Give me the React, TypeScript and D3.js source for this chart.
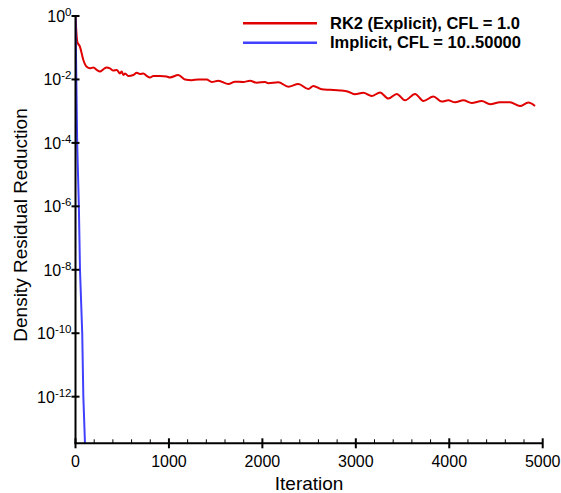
import React from "react";
import * as d3 from "d3";

const rk2Iter = [0, 19, 48, 84, 120, 155, 191, 227, 262, 298, 334, 369, 405, 441, 476, 494, 512, 530, 565, 619, 655, 690, 726, 762, 797, 833, 904, 976, 1011, 1100, 1172, 1244, 1315, 1404, 1458, 1529, 1636, 1707, 1796, 1868, 1939, 2028, 2064, 2171, 2278, 2385, 2492, 2545, 2635, 2724, 2831, 2920, 2991, 3080, 3170, 3259, 3348, 3438, 3527, 3634, 3723, 3830, 3919, 3990, 4062, 4151, 4240, 4348, 4437, 4543, 4650, 4757, 4846, 4918];
const rk2Res = [1, 0.155, 0.107, 0.041, 0.025, 0.0224, 0.024, 0.02, 0.0178, 0.0209, 0.024, 0.0224, 0.019, 0.02, 0.0155, 0.0178, 0.0138, 0.0155, 0.0129, 0.0138, 0.0162, 0.0148, 0.0155, 0.0129, 0.0115, 0.0129, 0.0129, 0.0123, 0.0115, 0.0138, 0.01, 0.0095, 0.01, 0.01, 0.0083, 0.0091, 0.0072, 0.0085, 0.0083, 0.0091, 0.0079, 0.0083, 0.0076, 0.0081, 0.0059, 0.0072, 0.005, 0.0062, 0.0049, 0.0047, 0.0045, 0.0041, 0.0034, 0.0038, 0.003, 0.0039, 0.0025, 0.0035, 0.0022, 0.0035, 0.0021, 0.0029, 0.002, 0.0022, 0.0019, 0.0022, 0.0018, 0.0021, 0.00166, 0.0019, 0.0019, 0.00145, 0.00186, 0.00145];

const implIter = [0, 18, 36, 48, 72, 84, 102];
const implRes = [1, 1e-4, 1e-6, 1e-8, 1e-10, 1e-12, 3e-14];

const xMajorTicks = [0, 1000, 2000, 3000, 4000, 5000];
const yTickExps = [0, -2, -4, -6, -8, -10, -12];

const seriesNames = ["RK2 (Explicit), CFL = 1.0", "Implicit, CFL = 10..50000"];
const seriesColors = ["#e00000", "#4040ff"];

const W = 561, H = 493;
const FONT = "'Liberation Sans', Arial, Helvetica, sans-serif";

export default function App() {
  const x = d3.scaleLinear().domain([0, 5000]).range([75.5, 542.7]);
  const yMin = Math.pow(10, -13.47);
  const y = d3.scaleLog().domain([1, yMin]).range([16, 443.3]);
  const line = d3
    .line<[number, number]>()
    .x((d) => x(d[0]))
    .y((d) => y(d[1]))
    .curve(d3.curveMonotoneX);
  const rk2 = rk2Iter.map((v, i) => [v, rk2Res[i]] as [number, number]);
  const impl = implIter.map((v, i) => [v, implRes[i]] as [number, number]);
  const minorX = d3.range(0, 5001, 200).filter((v) => v % 1000 !== 0);
  const x0 = x(0), yb = y(yMin);

  return (
    <svg width={W} height={H} style={{ position: "absolute", left: 0, top: 0, background: "#fff" }} fontFamily={FONT}>
      <defs>
        <clipPath id="plot">
          <rect x={x0} y={0} width={x(5000) - x0 + 5} height={yb} />
        </clipPath>
      </defs>
      <g clipPath="url(#plot)">
        <path d={line(rk2) || ""} fill="none" stroke={seriesColors[0]} strokeWidth={2} />
        <path d={line.curve(d3.curveLinear)(impl) || ""} fill="none" stroke={seriesColors[1]} strokeWidth={2} />
      </g>
      <line x1={x0} x2={x0} y1={y(1)} y2={yb} stroke="#000" strokeWidth={2} />
      <line x1={x0 - 1} x2={x(5000)} y1={yb} y2={yb} stroke="#000" strokeWidth={2} />
      {yTickExps.map((e) => (
        <g key={e}>
          <line x1={x0 - 4} x2={x0 + 4} y1={y(Math.pow(10, e))} y2={y(Math.pow(10, e))} stroke="#000" strokeWidth={2} />
          <text x={71.5} y={y(Math.pow(10, e)) + 6} textAnchor="end" fontSize={16} fill="#000">
            10<tspan fontSize={11.5} dy={-6}>{String(e)}</tspan>
          </text>
        </g>
      ))}
      {xMajorTicks.map((t) => (
        <g key={t}>
          <line x1={x(t)} x2={x(t)} y1={yb - 5} y2={yb + 5} stroke="#000" strokeWidth={2} />
          <text x={x(t)} y={466.7} textAnchor="middle" fontSize={16} fill="#000">{t}</text>
        </g>
      ))}
      {minorX.map((t) => (
        <line key={t} x1={x(t)} x2={x(t)} y1={yb - 4} y2={yb} stroke="#000" strokeWidth={1} />
      ))}
      <text x={(x(0) + x(5000)) / 2} y={490} textAnchor="middle" fontSize={19} fill="#000">Iteration</text>
      <text transform={`translate(27,225) rotate(-90)`} textAnchor="middle" fontSize={19} fill="#000">Density Residual Reduction</text>
      {seriesNames.map((n, i) => (
        <g key={n}>
          <line x1={243} x2={317} y1={23.3 + i * 19.4} y2={23.3 + i * 19.4} stroke={seriesColors[i]} strokeWidth={2.5} />
          <text x={330} y={28.8 + i * 19.4} fontSize={16.5} fontWeight="bold" fill="#000">{n}</text>
        </g>
      ))}
    </svg>
  );
}
